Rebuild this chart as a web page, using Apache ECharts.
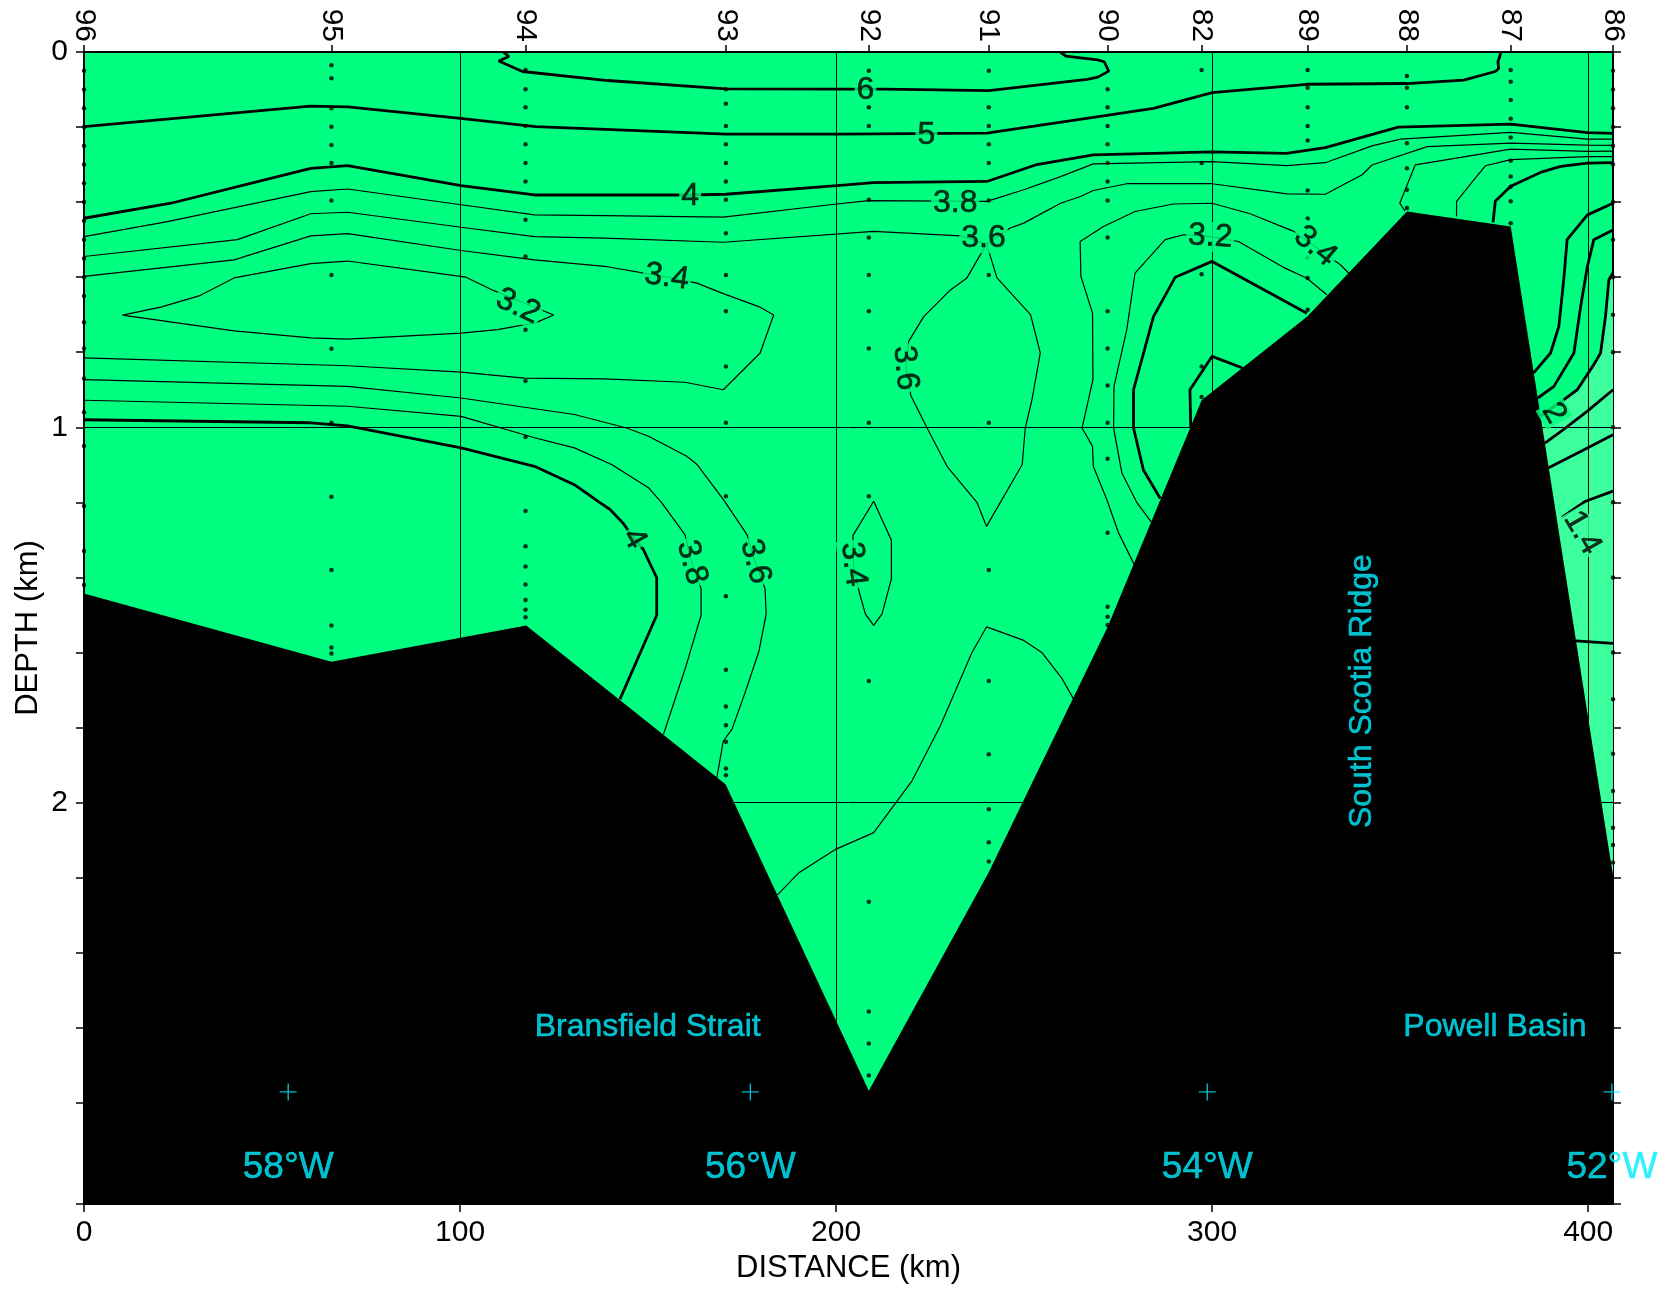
<!DOCTYPE html>
<html><head><meta charset="utf-8">
<script src="https://cdn.jsdelivr.net/npm/echarts@6/dist/echarts.min.js"></script>
<style>html,body{margin:0;padding:0;background:#fff}#c{width:1669px;height:1289px}</style>
</head><body><div id="c"></div>
<script>
// ---------- data (distance km, depth km) ----------
const stationNames = ['96','95','94','93','92','91','90','82','89','88','87','86'];
const stationKm = [0, 65.8, 117.4, 170.7, 208.7, 240.6, 272.2, 297.2, 325.4, 351.8, 379.4, 406.6];
const sampleDepths = [
 [0.05,0.10,0.15,0.20,0.25,0.30,0.35,0.40,0.45,0.50,0.55,0.60,0.65,0.72,0.79,0.87,0.96,1.05,1.21,1.33,1.42],
 [0.035,0.070,0.150,0.199,0.248,0.296,0.396,0.594,0.791,0.988,1.185,1.380,1.528,1.587,1.603],
 [0.048,0.099,0.147,0.197,0.246,0.296,0.345,0.447,0.545,0.740,0.877,1.026,1.223,1.317,1.371,1.419,1.460,1.486,1.506],
 [0.099,0.138,0.197,0.246,0.296,0.345,0.394,0.483,0.594,0.691,0.838,0.988,1.184,1.450,1.646,1.744,1.794,1.838,1.909,1.927],
 [0.050,0.147,0.197,0.394,0.494,0.594,0.691,0.790,0.988,1.184,1.676,2.264,2.557,2.642,2.727],
 [0.050,0.147,0.197,0.246,0.296,0.396,0.594,0.988,1.380,1.676,1.871,2.018,2.106,2.157],
 [0.099,0.147,0.197,0.246,0.296,0.345,0.396,0.494,0.691,0.790,0.889,0.988,1.084,1.281,1.478,1.505,1.527],
 [0.048,0.296,0.592,0.838,0.919],
 [0.048,0.095,0.147,0.197,0.236,0.369,0.444,0.547,0.602,0.687],
 [0.064,0.095,0.147,0.243,0.310,0.367,0.416],
 [0.048,0.079,0.128,0.178,0.228,0.290,0.332,0.359,0.398,0.456],
 [0.05,0.10,0.15,0.20,0.25,0.30,0.40,0.50,0.60,0.70,0.80,1.00,1.20,1.40,1.60,1.725,1.870,1.969,2.067,2.113,2.160]
];
const bathymetry = [[0,1.443],[65.8,1.625],[117.6,1.528],[170.6,1.951],[208.7,2.768],[240.6,2.186],[272.2,1.532],[297.2,0.928],[325.3,0.705],[351.8,0.425],[379.4,0.465],[406.6,2.195],[406.6,3.07],[0,3.07]];
const coldWater = [[387.3,0.97],[393,0.93],[397.1,0.900],[401.5,0.833],[403.3,0.802],[404.6,0.705],[405.5,0.607],[406.6,0.589],[406.6,2.195],[387.4,0.97]];

const c6 = [[111.5,0],[113,0.012],[110.3,0.024],[116.6,0.052],[139.3,0.076],[170.7,0.098],[201,0.099],[212.7,0.099],[240.6,0.103],[266.8,0.073],[269.6,0.067],[272.5,0.051],[271.3,0.026],[269.6,0.021],[261.1,0.011],[259.6,0]];
const c5 = [[0,0.199],[60.2,0.144],[70.2,0.146],[100.1,0.177],[120.1,0.199],[170.7,0.219],[201,0.219],[240.1,0.216],[268.4,0.174],[284.4,0.150],[300,0.108],[325.2,0.086],[351.8,0.084],[366.9,0.075],[375.3,0.052],[376.2,0.044],[376,0.026],[376.6,0.008],[376.7,0]];
const c4Upper = [[0,0.443],[23.1,0.403],[60.3,0.310],[70.1,0.303],[100.3,0.356],[119.8,0.381],[161,0.381],[170.7,0.379],[200.2,0.356],[210,0.348],[240.1,0.345],[253,0.301],[268.4,0.274],[300,0.266],[319.7,0.270],[330.1,0.255],[349.5,0.200],[379.4,0.192],[399.8,0.215],[406.6,0.217]];
const c38Upper = [[0,0.492],[22.2,0.452],[60.3,0.372],[70.1,0.365],[100.3,0.407],[119.8,0.434],[138.4,0.436],[170,0.440],[200.2,0.405],[208.7,0.396],[240.1,0.398],[249.9,0.367],[259.7,0.332],[268.4,0.298],[300,0.292],[319.9,0.303],[330.1,0.295],[342.5,0.250],[350.1,0.232],[379.4,0.214],[399.8,0.232],[406.6,0.232]];
const c36Upper = [[0,0.545],[40.8,0.500],[60.3,0.431],[70.1,0.427],[100.3,0.467],[119.8,0.492],[138.4,0.496],[170,0.507],[210,0.478],[233,0.49],[240,0.512],[246.3,0.469],[249.9,0.456],[259.7,0.403],[265,0.385],[268.4,0.369],[277.3,0.351],[300,0.351],[319.9,0.378],[330.1,0.379],[339.9,0.327],[342.5,0.301],[357.2,0.252],[379.4,0.243],[399.8,0.248],[406.6,0.249]];
const c36Tongue = [[240,0.512],[234.8,0.602],[230.4,0.634],[223.3,0.705],[219.3,0.771],[218.5,0.84],[219.9,0.916],[224.2,1.002],[229.5,1.104],[237.5,1.201],[240,1.264],[249.5,1.099],[250.3,1.002],[252.1,0.926],[254.3,0.802],[251.7,0.700],[242.8,0.602],[240,0.512]];
const c34Upper = [[0,0.598],[39.9,0.554],[60.3,0.490],[70.1,0.484],[100.3,0.529],[119.8,0.554],[138.4,0.571],[155,0.60],[163,0.616],[170,0.644],[179.8,0.680],[183.4,0.701],[179.8,0.802],[170,0.900],[159.8,0.880],[138.4,0.871],[117.1,0.869],[100.3,0.853],[70.1,0.836],[0,0.815]];
const c32West = [[10.2,0.701],[20.4,0.680],[30.6,0.650],[39.9,0.602],[60.3,0.564],[70.1,0.557],[101.6,0.600],[109,0.636],[124.9,0.701],[120.2,0.721],[110,0.740],[100.3,0.749],[70.1,0.765],[60.3,0.762],[39.9,0.743],[10.2,0.701]];
const c36Lower = [[0,0.873],[70.1,0.891],[100.3,0.922],[130.4,0.966],[144.3,1.002],[150.1,1.024],[160.3,1.077],[163,1.099],[170,1.192],[176.3,1.286],[178.5,1.36],[181.1,1.430],[181.4,1.498],[179.5,1.596],[175.8,1.707],[172.3,1.805],[170,1.836],[168.3,1.933]];
const c38Lower = [[0,0.928],[70.1,0.944],[100.3,0.971],[119.8,1.028],[130.4,1.055],[140.3,1.099],[150.1,1.161],[153.6,1.201],[159.8,1.286],[161.6,1.36],[164.1,1.430],[164.1,1.501],[160.1,1.636],[154.1,1.818]];
const c4Lower = [[0,0.980],[60.3,0.988],[70.1,0.996],[100.3,1.055],[119.8,1.104],[130.4,1.153],[137.2,1.201],[139.9,1.219],[143.4,1.256],[146.3,1.297],[148.7,1.325],[152.3,1.401],[152.3,1.501],[142.5,1.725]];
const c34Deep = [[204.5,1.288],[210,1.197],[214.7,1.301],[214.7,1.404],[212.2,1.498],[210,1.528],[207.8,1.498],[206.2,1.441],[204.6,1.365],[204.5,1.288]];
const cBottom = [[184.4,2.246],[190,2.188],[200,2.124],[210,2.080],[220.2,1.942],[227.7,1.796],[236.1,1.601],[240,1.532],[249.9,1.568],[254.8,1.601],[260.1,1.670],[263.2,1.725]];
const c34East = [[279.2,1.365],[278.6,1.352],[275.1,1.281],[272,1.193],[268.4,1.104],[268.2,1.051],[265.4,1.002],[268.3,0.873],[268.2,0.696],[265.1,0.598],[264.9,0.505],[271.1,0.465],[279.5,0.425],[289.7,0.405],[300,0.403],[310.1,0.431],[321.7,0.478],[327.4,0.518],[334.1,0.567],[336.3,0.589]];
const c34Ridge = [[351.3,0.424],[349.9,0.403],[354,0.301],[379.4,0.259],[399.8,0.265],[406.6,0.264]];
const c32East = [[284,1.255],[280,1.201],[276,1.122],[273.8,1.002],[273.9,0.891],[277.3,0.740],[279.5,0.589],[287.5,0.500],[292.4,0.487],[299.5,0.492],[307,0.505],[319.4,0.576],[325.2,0.603],[330.5,0.647]];
const c32Ridge = [[365,0.438],[365,0.398],[369.6,0.341],[372.7,0.303],[379.4,0.287],[399.8,0.279],[406.6,0.279]];
const c3East = [[286.2,1.19],[281.7,1.113],[279.1,1.002],[279.1,0.900],[284.4,0.705],[290.2,0.600],[300,0.558],[325.2,0.696]];
const c3Ridge = [[374.7,0.454],[375.3,0.398],[379.4,0.358],[387.3,0.321],[392.7,0.305],[399.8,0.296],[406.6,0.295]];
const c28Ridge = [[294.3,1.0],[294.1,0.900],[300,0.811],[308.1,0.842]];
const cE1 = [[385.5,0.855],[390,0.802],[392.2,0.731],[393.5,0.607],[394.4,0.500],[399.8,0.434],[406.6,0.403]];
const cE2 = [[386.6,0.922],[390.9,0.891],[396.2,0.802],[398,0.678],[399.8,0.571],[401.5,0.500],[406.6,0.474]];
const c2 = [[387.3,0.97],[393,0.93],[397.1,0.900],[401.5,0.833],[403.3,0.802],[404.6,0.705],[405.5,0.607],[406.6,0.589]];
const cE3 = [[388.5,1.042],[393.4,1.006],[399.8,0.957],[406.6,0.900]];
const cE4 = [[389.5,1.108],[399.8,1.055],[406.6,1.020]];
const cE5 = [[393,1.24],[399.3,1.197],[406.6,1.170]];
const cE6 = [[396.6,1.569],[406.6,1.576]];

const thickLines = [c6, c5, c4Upper, c4Lower, c3East, c3Ridge, c28Ridge, cE1, cE2, c2, cE3, cE4, cE5, cE6];
const thinLines = [c38Upper, c36Upper, c36Tongue, c34Upper, c32West, c36Lower, c38Lower, c34Deep, cBottom, c34East, c34Ridge, c32East, c32Ridge];

const labelText  = ['6','5','4','3.8','3.6','3.4','3.2','3.6','4','3.8','3.6','3.4','3.2','3.4','2','1.4'];
const labelKm    = [207.8,224.0,161.2,231.7,239.2,155.0,115.4,218.4,146.3,161.6,178.5,204.6,299.5,327.4,390.9,398.4];
const labelDepth = [0.101,0.221,0.383,0.403,0.496,0.600,0.678,0.842,1.297,1.360,1.358,1.365,0.492,0.518,0.962,1.281];
const labelAngle = [0,0,0,0,0,-8,-25,-85,-60,-75,-75,-83,-3,-40,-60,-60];
const labelInCold = [false,false,false,false,false,false,false,false,false,false,false,false,false,false,false,true];

const placeNames = ['Bransfield Strait','Powell Basin'];
const placeKm = [149.9, 375.2];
const placeDepth = [2.599, 2.599];
const ridgeName = 'South Scotia Ridge';
const ridgeKm = 339.8, ridgeDepth = 1.703;
const lonLabels = ['58°W','56°W','54°W','52°W'];
const lonKm = [54.3, 177.2, 298.7, 406.3];
const lonMarkDepth = 2.771, lonTextDepth = 2.973;

const xTicks = [0,100,200,300,400];
const yTicks = [0,0.2,0.4,0.6,0.8,1,1.2,1.4,1.6,1.8,2,2.2,2.4,2.6,2.8,3.07];
const yLabels = [0,1,2];
const xMax = 406.6, yMax = 3.07;

// ---------- chart ----------
const GREEN = '#00ff80', LIGHT = '#3dff9e', CYAN = '#00eeff';
const FONT = 'Liberation Sans, Arial, sans-serif';
const chart = echarts.init(document.getElementById('c'), null, {renderer:'canvas'});

function polygon(points, color, z){
  return {type:'custom', z, silent:true, clip:true, data:[[0,0]],
    renderItem:(p, api)=>({type:'polygon', shape:{points: points.map(q=>api.coord(q))}, style:{fill:color}})};
}
function line(points, w, z){
  return {type:'line', data:points, z, silent:true, showSymbol:false, symbol:'none', smooth:false,
    lineStyle:{color:'#000', width:w}, clip:true};
}
const series = [];
series.push(polygon(coldWater, LIGHT, 1));
series.push({type:'line', data:[[0,0]], z:2, silent:true, showSymbol:false, lineStyle:{opacity:0},
  markLine:{silent:true, symbol:['none','none'], label:{show:false}, animation:false,
    lineStyle:{color:'#000', width:1, type:'solid'},
    data:[{xAxis:100},{xAxis:200},{xAxis:300},{xAxis:400},{yAxis:1},{yAxis:2}]}});
thinLines.forEach(l=>series.push(line(l,1.2,3)));
thickLines.forEach(l=>series.push(line(l,2.8,3)));
const dots = [];
stationKm.forEach((x,i)=>sampleDepths[i].forEach(d=>dots.push([x,d])));
series.push({type:'scatter', data:dots, z:4, silent:true, symbolSize:4.5, itemStyle:{color:'#000'}});
series.push(polygon(bathymetry, '#000', 5));
series.push({type:'scatter', z:6, silent:true, symbolSize:1, itemStyle:{color:'rgba(0,0,0,0)'},
  data: labelText.map((t,i)=>({value:[labelKm[i],labelDepth[i]],
    label:{show:true, position:'inside', formatter:t, rotate:labelAngle[i], fontSize:32, fontFamily:FONT,
      color:'#000', textBorderColor:'#000', textBorderWidth:0.6,
      backgroundColor:labelInCold[i]?LIGHT:GREEN, padding:[0,2], lineHeight:30}}))});
// annotations
const ann = [];
placeNames.forEach((t,i)=>ann.push({value:[placeKm[i],placeDepth[i]], label:{formatter:t, fontSize:32}}));
ann.push({value:[ridgeKm,ridgeDepth], label:{formatter:ridgeName, fontSize:32, rotate:90}});
lonLabels.forEach((t,i)=>ann.push({value:[lonKm[i],lonTextDepth], label:{formatter:t, fontSize:37}}));
series.push({type:'scatter', z:7, silent:true, symbolSize:1, clip:false, itemStyle:{color:'rgba(0,0,0,0)'},
  label:{show:true, position:'inside', color:CYAN, fontFamily:FONT, textBorderColor:CYAN, textBorderWidth:0.5}, data:ann});
series.push({type:'scatter', z:7, silent:true, clip:false, symbol:'path://M9.2,0h1.6v9.2h9.2v1.6h-9.2v9.2h-1.6v-9.2h-9.2v-1.6h9.2z',
  symbolSize:17, itemStyle:{color:CYAN}, data: lonKm.map(x=>[x,lonMarkDepth])});

const axisBase = {type:'value', min:0, splitLine:{show:false},
  axisLine:{show:true, onZero:false, lineStyle:{color:'#000', width:2}},
  axisTick:{show:true, length:8, lineStyle:{color:'#000', width:1.5}},
  axisLabel:{color:'#000', fontSize:30, fontFamily:FONT}};

chart.setOption({
  animation:false,
  backgroundColor:'#fff',
  grid:{left:84, right:56, top:52, bottom:83, show:true, backgroundColor:GREEN, borderColor:'#000', borderWidth:2},
  xAxis:[
    Object.assign({}, axisBase, {position:'bottom', max:xMax,
      axisTick:Object.assign({}, axisBase.axisTick, {customValues:xTicks}),
      axisLabel:Object.assign({}, axisBase.axisLabel, {customValues:xTicks, margin:14}),
      name:'DISTANCE (km)', nameLocation:'middle', nameGap:48,
      nameTextStyle:{color:'#000', fontSize:31, fontFamily:FONT}}),
    Object.assign({}, axisBase, {position:'top', max:xMax,
      axisTick:Object.assign({}, axisBase.axisTick, {customValues:stationKm, length:7}),
      axisLabel:Object.assign({}, axisBase.axisLabel, {customValues:stationKm, rotate:90, margin:10,
        formatter:v=>{const i=stationKm.findIndex(s=>Math.abs(s-v)<1e-6); return i>=0?stationNames[i]:'';}})})
  ],
  yAxis:[
    Object.assign({}, axisBase, {position:'left', max:yMax, inverse:true,
      axisTick:Object.assign({}, axisBase.axisTick, {customValues:yTicks}),
      axisLabel:Object.assign({}, axisBase.axisLabel, {customValues:yLabels, margin:16}),
      name:'DEPTH (km)', nameLocation:'middle', nameGap:40, nameRotate:90, nameMoveOverlap:false,
      nameTextStyle:{color:'#000', fontSize:31, fontFamily:FONT}}),
    Object.assign({}, axisBase, {position:'right', max:yMax, inverse:true,
      axisTick:Object.assign({}, axisBase.axisTick, {customValues:yTicks}),
      axisLabel:{show:false}})
  ],
  series
});
</script></body></html>
